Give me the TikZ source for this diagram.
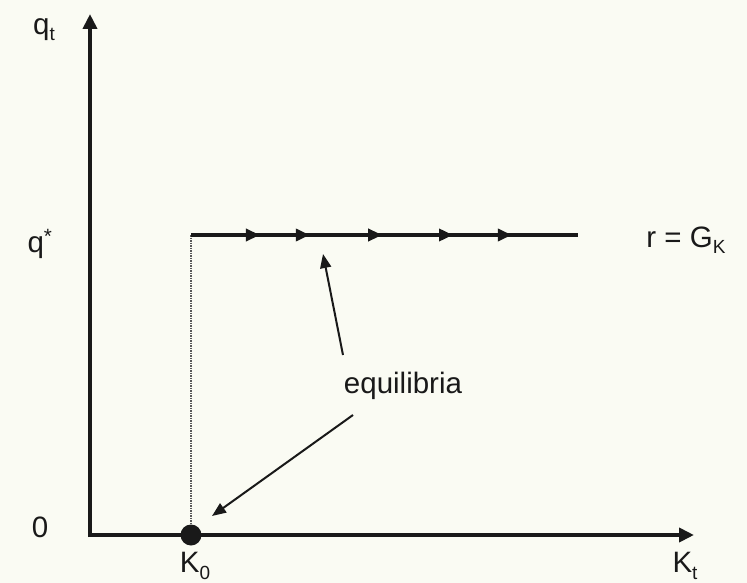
\documentclass[tikz,border=0pt]{standalone}
\usepackage{fontspec}
\setmainfont{Liberation Sans}
\usetikzlibrary{arrows.meta,decorations.markings}
\definecolor{bg}{RGB}{250,251,243}
\definecolor{ink}{RGB}{25,25,25}
\newcommand\lowsub[1]{\raisebox{-0.4ex}{\fontsize{19}{20}\selectfont #1}}
\tikzset{
  lbl/.style={font=\fontsize{29.5}{33}\selectfont, text=ink, inner sep=0pt},
  axis/.style={ink, line width=4pt, -{Triangle[length=15pt,width=14pt]}},
  pointer/.style={ink, line width=2pt, -{Triangle[length=14pt,width=11pt]}},
  flow/.style={ink, line width=3.5pt, postaction={decorate}, decoration={markings,
    mark=at position 0.178 with {\arrow{Triangle[length=14pt,width=12pt]}},
    mark=at position 0.307 with {\arrow{Triangle[length=14pt,width=12pt]}},
    mark=at position 0.494 with {\arrow{Triangle[length=14pt,width=12pt]}},
    mark=at position 0.677 with {\arrow{Triangle[length=14pt,width=12pt]}},
    mark=at position 0.829 with {\arrow{Triangle[length=14pt,width=12pt]}}}},
  guide/.style={gray!70!black, line width=1.5pt, densely dotted}
}
\begin{document}
\begin{tikzpicture}[x=1pt,y=-1pt]
\fill[bg] (0,0) rectangle (747,583);
\useasboundingbox (0,0) rectangle (747,583);
\coordinate (O) at (90,535);
\coordinate (ytop) at (90,14);
\coordinate (xend) at (694,535);
\coordinate (qs) at (191,235);
\coordinate (qe) at (578,235);
\draw[guide] (qs) -- (191,535);
\draw[axis] ([yshift=-2pt]O) -- (ytop);
\draw[axis] ([xshift=-2pt]O) -- (xend);
\draw[flow] (qs) -- (qe);
\node[circle, fill=ink, minimum size=21pt, inner sep=0pt] (k0dot) at (191,535) {};
\node[lbl] (qt) at (44,30) {q\lowsub{t}};
\node[lbl] (qstar) at (40,244) {q\textsuperscript{*}};
\node[lbl] (zero) at (40,527) {0};
\node[lbl] (K0) at (195,566) {K\lowsub{0}};
\node[lbl] (Kt) at (685,566) {K\lowsub{t}};
\node[lbl] (rG) at (686,240) {r = G\lowsub{K}};
\node[lbl] (eq) at (403,386) {equilibria};
\coordinate (tipup) at (323,254);
\coordinate (tipdown) at (212,516);
\draw[pointer] (343,355) -- (tipup);
\draw[pointer] (353,415) -- (tipdown);
\end{tikzpicture}
\end{document}
